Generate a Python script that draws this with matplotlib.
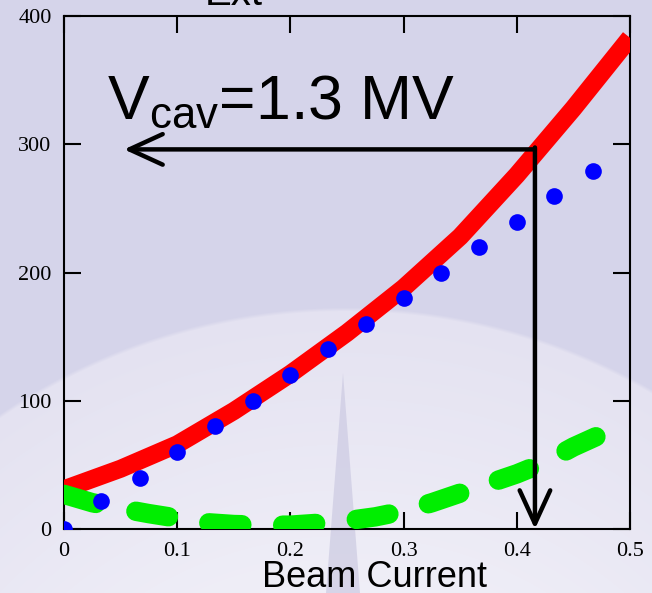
import numpy as np
import matplotlib
matplotlib.use("Agg")
import matplotlib.pyplot as plt
from matplotlib.patches import Polygon

# beam current (x) and power values
red_x = [0.0, 0.05, 0.1, 0.15, 0.2, 0.25, 0.3, 0.35, 0.4, 0.45, 0.5]
red_y = [31, 47, 66, 92, 121, 153, 188, 228, 276, 328, 383]

blue_x = [0.0, 0.033, 0.067, 0.1, 0.133, 0.167, 0.2, 0.233, 0.267, 0.3,
          0.333, 0.367, 0.4, 0.433, 0.467]
blue_y = [0, 22, 40, 60, 80, 100, 120, 140, 160, 180, 200, 220, 239, 260, 279]

green_x = [0.0, 0.025, 0.05, 0.075, 0.1, 0.125, 0.15, 0.175, 0.2, 0.225, 0.25,
           0.275, 0.3, 0.325, 0.35, 0.375, 0.4, 0.425, 0.45, 0.475, 0.48]
green_y = [27, 20.5, 16, 12, 8.5, 5, 3.5, 3, 3, 4.5, 6.5,
           9.5, 14, 20.5, 28, 35.5, 43, 52, 64, 74, 76]

x_ticks = [0, 0.1, 0.2, 0.3, 0.4, 0.5]
x_labels = ["0", "0.1", "0.2", "0.3", "0.4", "0.5"]
y_ticks = [0, 100, 200, 300, 400]

# operating point marked by the arrows
op_x, op_y = 0.416, 296
arrow_left_x = 0.053

BG = "#d5d4ea"
W, H = 652, 593

fig = plt.figure(figsize=(W / 100, H / 100), dpi=100)
fig.patch.set_facecolor(BG)

# background decoration: pale arc with a soft gradient, faint spike
yy, xx = np.mgrid[0:H, 0:W]
d = np.hypot(xx - 345, yy - 921)
base = np.array([213, 212, 234]) / 255
arc_out = np.array([228, 226, 241]) / 255
arc_in = np.array([241, 240, 248]) / 255
t = np.clip((614 - d) / 320, 0, 1)[..., None]
inside = np.clip((614 - d) / 4, 0, 1)[..., None]
arc = arc_out + (arc_in - arc_out) * t
img = base + (arc - base) * inside

bg = fig.add_axes([0, 0, 1, 1], zorder=-10)
bg.imshow(img, extent=(0, W, H, 0), aspect="auto", interpolation="bilinear")
bg.set_xlim(0, W)
bg.set_ylim(H, 0)
bg.axis("off")
bg.add_patch(Polygon([(343, 373), (326, 593), (360, 593)], closed=True,
                     fc="#cccae2", ec="none", alpha=0.7))

ax = fig.add_axes([0.0982, 0.1079, 0.8681, 0.8651])
ax.set_facecolor("none")
ax.set_xlim(0, 0.5)
ax.set_ylim(0, 400)

ax.plot(red_x, red_y, color="#ff0000", lw=13, solid_capstyle="butt",
        solid_joinstyle="round", zorder=3)
ax.plot(blue_x, blue_y, "o", color="#0000ff", ms=12, mec="none", zorder=4)
green, = ax.plot(green_x, green_y, color="#00ee00", lw=14,
                 dash_capstyle="round", solid_joinstyle="round", zorder=3)
green.set_dashes((1.7, 2.1))

# arrows
ax.annotate("", xy=(arrow_left_x, op_y), xytext=(op_x, op_y),
            arrowprops=dict(arrowstyle="->,head_length=2.4,head_width=1.1",
                            lw=3.2, color="black", shrinkA=0, shrinkB=0),
            zorder=5)
ax.annotate("", xy=(op_x, 0), xytext=(op_x, op_y + 1.5),
            arrowprops=dict(arrowstyle="->,head_length=2.4,head_width=1.1",
                            lw=3.2, color="black", shrinkA=0, shrinkB=0),
            zorder=5)

plt.rcParams["mathtext.fontset"] = "custom"
plt.rcParams["mathtext.rm"] = "Liberation Sans"
plt.rcParams["mathtext.it"] = "Liberation Sans:italic"
ax.text(0.038, 320, r"V$_{\mathrm{cav}}$=1.3 MV", fontsize=45,
        family="Liberation Sans", va="baseline", ha="left", zorder=6)

ax.set_xticks(x_ticks)
ax.set_xticklabels(x_labels)
ax.set_yticks(y_ticks)
ax.tick_params(direction="in", length=12, width=1.5, top=True, right=True,
               labelsize=16, pad=9)
for lab in ax.get_xticklabels() + ax.get_yticklabels():
    lab.set_family("Liberation Serif")
for s in ax.spines.values():
    s.set_linewidth(1.5)

fig.text(0.314, 0.9916, "Ext", fontsize=29, family="Liberation Sans",
         ha="left", va="baseline")
fig.text(0.574, 0.0101, "Beam Current", fontsize=26, family="Liberation Sans",
         ha="center", va="baseline")

fig.savefig("out.png", dpi=100, facecolor=fig.get_facecolor())
